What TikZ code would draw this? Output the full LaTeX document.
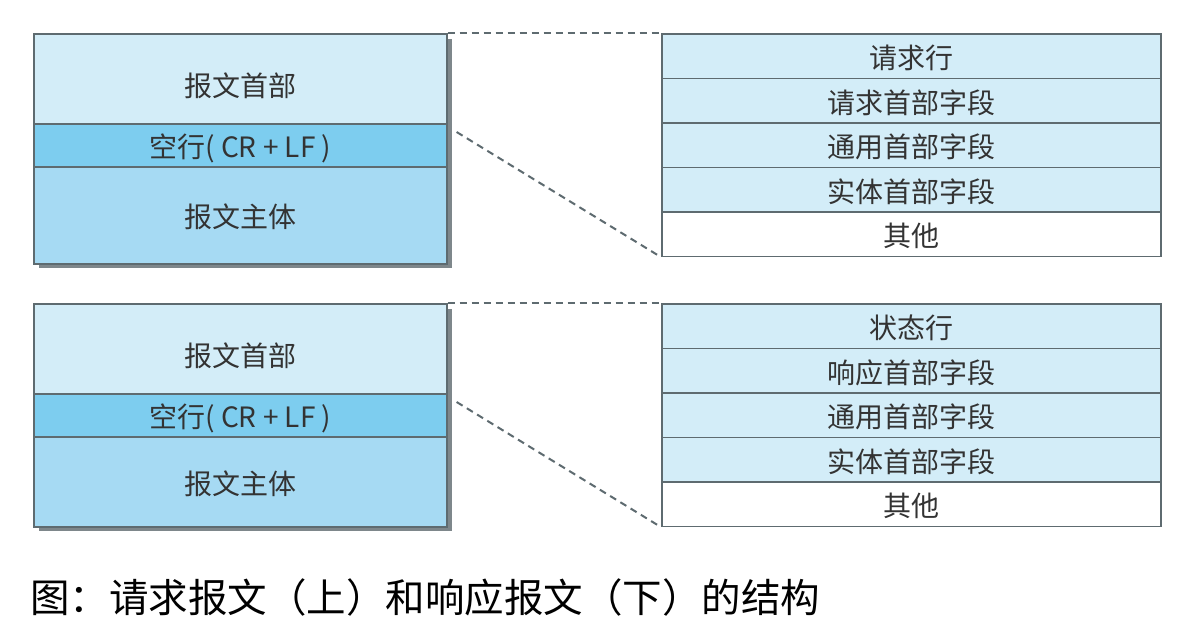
\documentclass[tikz,border=0pt]{standalone}
\usepackage{fontspec}
\newfontfamily\cjk{Noto Sans CJK SC}
\usetikzlibrary{calc}
\definecolor{hdrblue}{HTML}{D3EDF8}
\definecolor{blankblue}{HTML}{7DCDEF}
\definecolor{bodyblue}{HTML}{A6DAF3}
\definecolor{edge}{HTML}{5E6B70}
\definecolor{shade}{HTML}{7E878B}
\definecolor{ink}{HTML}{333333}
\tikzset{
  x=1pt, y=-1pt,
  cell/.style={draw=edge, line width=1.6pt, anchor=north west, inner sep=0pt,
    text=ink, font=\cjk\fontsize{28}{30}\selectfont,
    text height=25pt, text depth=0pt},
  lowtext/.style={text height=35pt, text depth=0pt},
  leftcell/.style={cell, minimum width=413pt},
  rightcell/.style={cell, minimum width=499pt, minimum height=44.5pt},
  guide/.style={draw=edge, line width=2pt, dash pattern=on 7pt off 5pt},
  shadow/.style={fill=shade},
}
\begin{document}
\begin{tikzpicture}
\useasboundingbox[fill=white] (0,0) rectangle (1190,640);

% ---- request message ----
\fill[shadow] (39,39) rectangle (452,268);
\node[leftcell, lowtext, fill=hdrblue, minimum height=90pt] (rqhead) at (33,33) {报文首部};
\node[leftcell, fill=blankblue, minimum height=43pt] (rqblank) at (33,123) {空行( CR + LF )};
\node[leftcell, fill=bodyblue, minimum height=97pt] (rqbody) at (33,166) {报文主体};

\node[rightcell, fill=hdrblue] (rq1) at (661,33)    {请求行};
\node[rightcell, fill=hdrblue] (rq2) at (661,77.5)  {请求首部字段};
\node[rightcell, fill=hdrblue] (rq3) at (661,122)   {通用首部字段};
\node[rightcell, fill=hdrblue] (rq4) at (661,166.5) {实体首部字段};
\node[rightcell, fill=white]   (rq5) at (661,211)   {其他};

\draw[guide] (rqhead.north east) -- (rq1.north west);
\draw[guide] ($(rqblank.north east)+(9,9)$) -- (rq5.south west);

% ---- response message ----
\fill[shadow] (39,309) rectangle (452,531);
\node[leftcell, lowtext, fill=hdrblue, minimum height=90pt] (rshead) at (33,303) {报文首部};
\node[leftcell, fill=blankblue, minimum height=43pt] (rsblank) at (33,393) {空行( CR + LF )};
\node[leftcell, fill=bodyblue, minimum height=90pt] (rsbody) at (33,436) {报文主体};

\node[rightcell, fill=hdrblue] (rs1) at (661,303)   {状态行};
\node[rightcell, fill=hdrblue] (rs2) at (661,347.5) {响应首部字段};
\node[rightcell, fill=hdrblue] (rs3) at (661,392)   {通用首部字段};
\node[rightcell, fill=hdrblue] (rs4) at (661,436.5) {实体首部字段};
\node[rightcell, fill=white]   (rs5) at (661,481)   {其他};

\draw[guide] (rshead.north east) -- (rs1.north west);
\draw[guide] ($(rsblank.north east)+(9,9)$) -- (rs5.south west);

% ---- caption ----
\node[anchor=west, inner sep=0pt, text=black, font=\cjk\fontsize{39.5}{42}\selectfont]
  (caption) at (30,597) {图：请求报文（上）和响应报文（下）的结构};
\end{tikzpicture}
\end{document}
